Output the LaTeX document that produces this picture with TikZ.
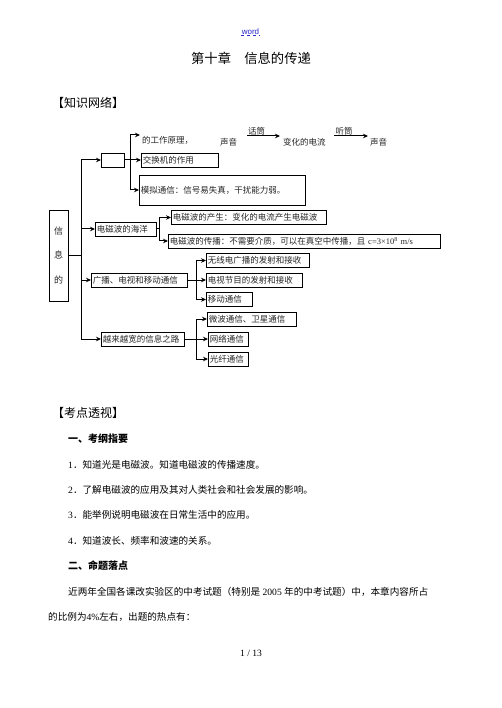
\documentclass[tikz,border=0pt]{standalone}
\usepackage{fontspec}
\setmainfont{Noto Sans CJK SC}
\newfontfamily\tnr{Liberation Serif}
\newfontfamily\arl{Liberation Sans}
\usetikzlibrary{arrows.meta}
\definecolor{linkblue}{RGB}{40,40,200}

\tikzset{
  kbox/.style={draw, line width=0.8pt, anchor=west, inner sep=1.5pt, minimum height=14pt, align=left, font=\fontsize{8.5}{10}\selectfont, text=black!85},
  ktext/.style={anchor=west, inner sep=0pt, font=\fontsize{8.5}{10}\selectfont, text=black!85},
  body/.style={anchor=west, inner sep=0pt, font=\fontsize{9.6}{11}\selectfont},
  head/.style={anchor=west, inner sep=0pt, font=\bfseries\fontsize{10}{12}\selectfont},
  link/.style={line width=1pt},
}

\begin{document}
\begin{tikzpicture}[x=1pt, y=-1pt, >={Stealth[length=5pt,width=4.5pt]}]
\fill[white] (0,0) rectangle (502,708);
\useasboundingbox (0,0) rectangle (502,708);

\node[inner sep=0.5pt, font=\arl\fontsize{8}{9}\selectfont, text=linkblue] (word) at (250.5,32) {word};
\draw[dashed, line width=0.6pt, linkblue] (word.south west) -- (word.south east);
\node[font=\fontsize{13.3}{15}\selectfont] (title) at (251,58) {第十章\hspace{1em}信息的传递};
\node[anchor=west, inner sep=0pt, font=\fontsize{12}{14}\selectfont] (network) at (52,103) {【知识网络】};

\node[kbox, anchor=center, align=center, text width=16pt, minimum height=91pt, font=\fontsize{9}{24.5}\selectfont] (info) at (58.5,255.5) {信\\息\\的};

\node[kbox, text width=20pt] (phone) at (101,160) {};
\node[kbox, text width=58pt] (sea) at (95,229) {电磁波的海洋};
\node[kbox, text width=93pt] (bcast) at (91,280) {广播、电视和移动通信};
\node[kbox, text width=80pt] (road) at (101,339) {越来越宽的信息之路};

\node[ktext] (principle) at (142,140) {的工作原理，};
\node[ktext] (voice1) at (220,142) {声音};
\node[ktext] (cur) at (283,142) {变化的电流};
\node[ktext] (voice2) at (370,142) {声音};
\node[kbox, text width=74pt] (exch) at (141,160) {交换机的作用};
\node[kbox, text width=163pt, minimum height=30pt] (analog) at (139,190) {模拟通信：信号易失真，干扰能力弱。};

\node[kbox, text width=152pt] (gen) at (171,217.5) {电磁波的产生：变化的电流产生电磁波};
\node[kbox, text width=269pt] (prop) at (168,241) {电磁波的传播：不需要介质，可以在真空中传播，且~{\tnr c=3×10\textsuperscript{8}~m/s}};

\node[kbox, text width=100pt] (radio) at (206,260.5) {无线电广播的发射和接收};
\node[kbox, text width=93pt] (tv) at (206,280) {电视节目的发射和接收};
\node[kbox, text width=43pt] (mobile) at (206,299.5) {移动通信};

\node[kbox, text width=86pt] (micro) at (207,319) {微波通信、卫星通信};
\node[kbox, text width=37pt] (net) at (208,339) {网络通信};
\node[kbox, text width=37pt] (fiber) at (208,359) {光纤通信};

\coordinate (trunk) at (81,0);
\coordinate (bx1) at (130,0);
\coordinate (bx2) at (159,0);
\coordinate (bx3) at (196,0);
\coordinate (ptip) at (140,135);

\draw[link] (info.east) -- (trunk |- info.east);
\draw[link] (trunk |- phone.west) -- (trunk |- road.west);
\foreach \n in {phone,sea,bcast,road}
  \draw[link,->] (trunk |- \n.west) -- (\n.west);

\draw[link] (phone.east) -- (bx1 |- phone.east);
\draw[link] (bx1 |- ptip) -- (bx1 |- analog.west);
\draw[link,->] (bx1 |- ptip) -- (ptip);
\draw[link,->] (bx1 |- exch.west) -- (exch.west);
\draw[link,->] (bx1 |- analog.west) -- (analog.west);

\draw[link,->] ([xshift=10pt,yshift=6pt]voice1.east) -- node[above, inner sep=0.8pt, pos=0.28, font=\fontsize{8.5}{10}\selectfont, text=black!85] (mic) {话筒} ([xshift=-3pt,yshift=6pt]cur.west);
\draw[link,->] ([xshift=8pt,yshift=6pt]cur.east) -- node[above, inner sep=0.8pt, pos=0.3, font=\fontsize{8.5}{10}\selectfont, text=black!85] (ear) {听筒} ([xshift=-2pt,yshift=6pt]voice2.west);

\draw[link] (sea.east) -- (bx2 |- sea.east);
\draw[link] (bx2 |- gen.west) -- (bx2 |- prop.west);
\draw[link,->] (bx2 |- gen.west) -- (gen.west);
\draw[link,->] (bx2 |- prop.west) -- (prop.west);

\draw[link] (bcast.east) -- (bx3 |- bcast.east);
\draw[link] (bx3 |- radio.west) -- (bx3 |- mobile.west);
\foreach \n in {radio,tv,mobile}
  \draw[link,->] (bx3 |- \n.west) -- (\n.west);

\draw[link] (road.east) -- (bx3 |- road.east);
\draw[link] (bx3 |- micro.west) -- (bx3 |- fiber.west);
\foreach \n in {micro,net,fiber}
  \draw[link,->] (bx3 |- \n.west) -- (\n.west);

\node[anchor=west, inner sep=0pt, font=\fontsize{12}{14}\selectfont] (review) at (52,413) {【考点透视】};
\node[head] (outline) at (68,439) {一、考纲指要};
\node[body] (item1) at (68,465) {{\tnr 1}．知道光是电磁波。知道电磁波的传播速度。};
\node[body] (item2) at (68,490) {{\tnr 2}．了解电磁波的应用及其对人类社会和社会发展的影响。};
\node[body] (item3) at (68,515) {{\tnr 3}．能举例说明电磁波在日常生活中的应用。};
\node[body] (item4) at (68,541) {{\tnr 4}．知道波长、频率和波速的关系。};
\node[head] (points) at (68,566) {二、命题落点};
\node[body] (para1) at (68,592) {近两年全国各课改实验区的中考试题（特别是{\tnr\ 2005\ }年的中考试题）中，本章内容所占};
\node[body] (para2) at (48,617) {的比例为{\tnr 4\%}左右，出题的热点有：};
\node[font=\tnr\fontsize{9.6}{11}\selectfont, inner sep=0pt] (page) at (251,653) {1 / 13};
\end{tikzpicture}
\end{document}
